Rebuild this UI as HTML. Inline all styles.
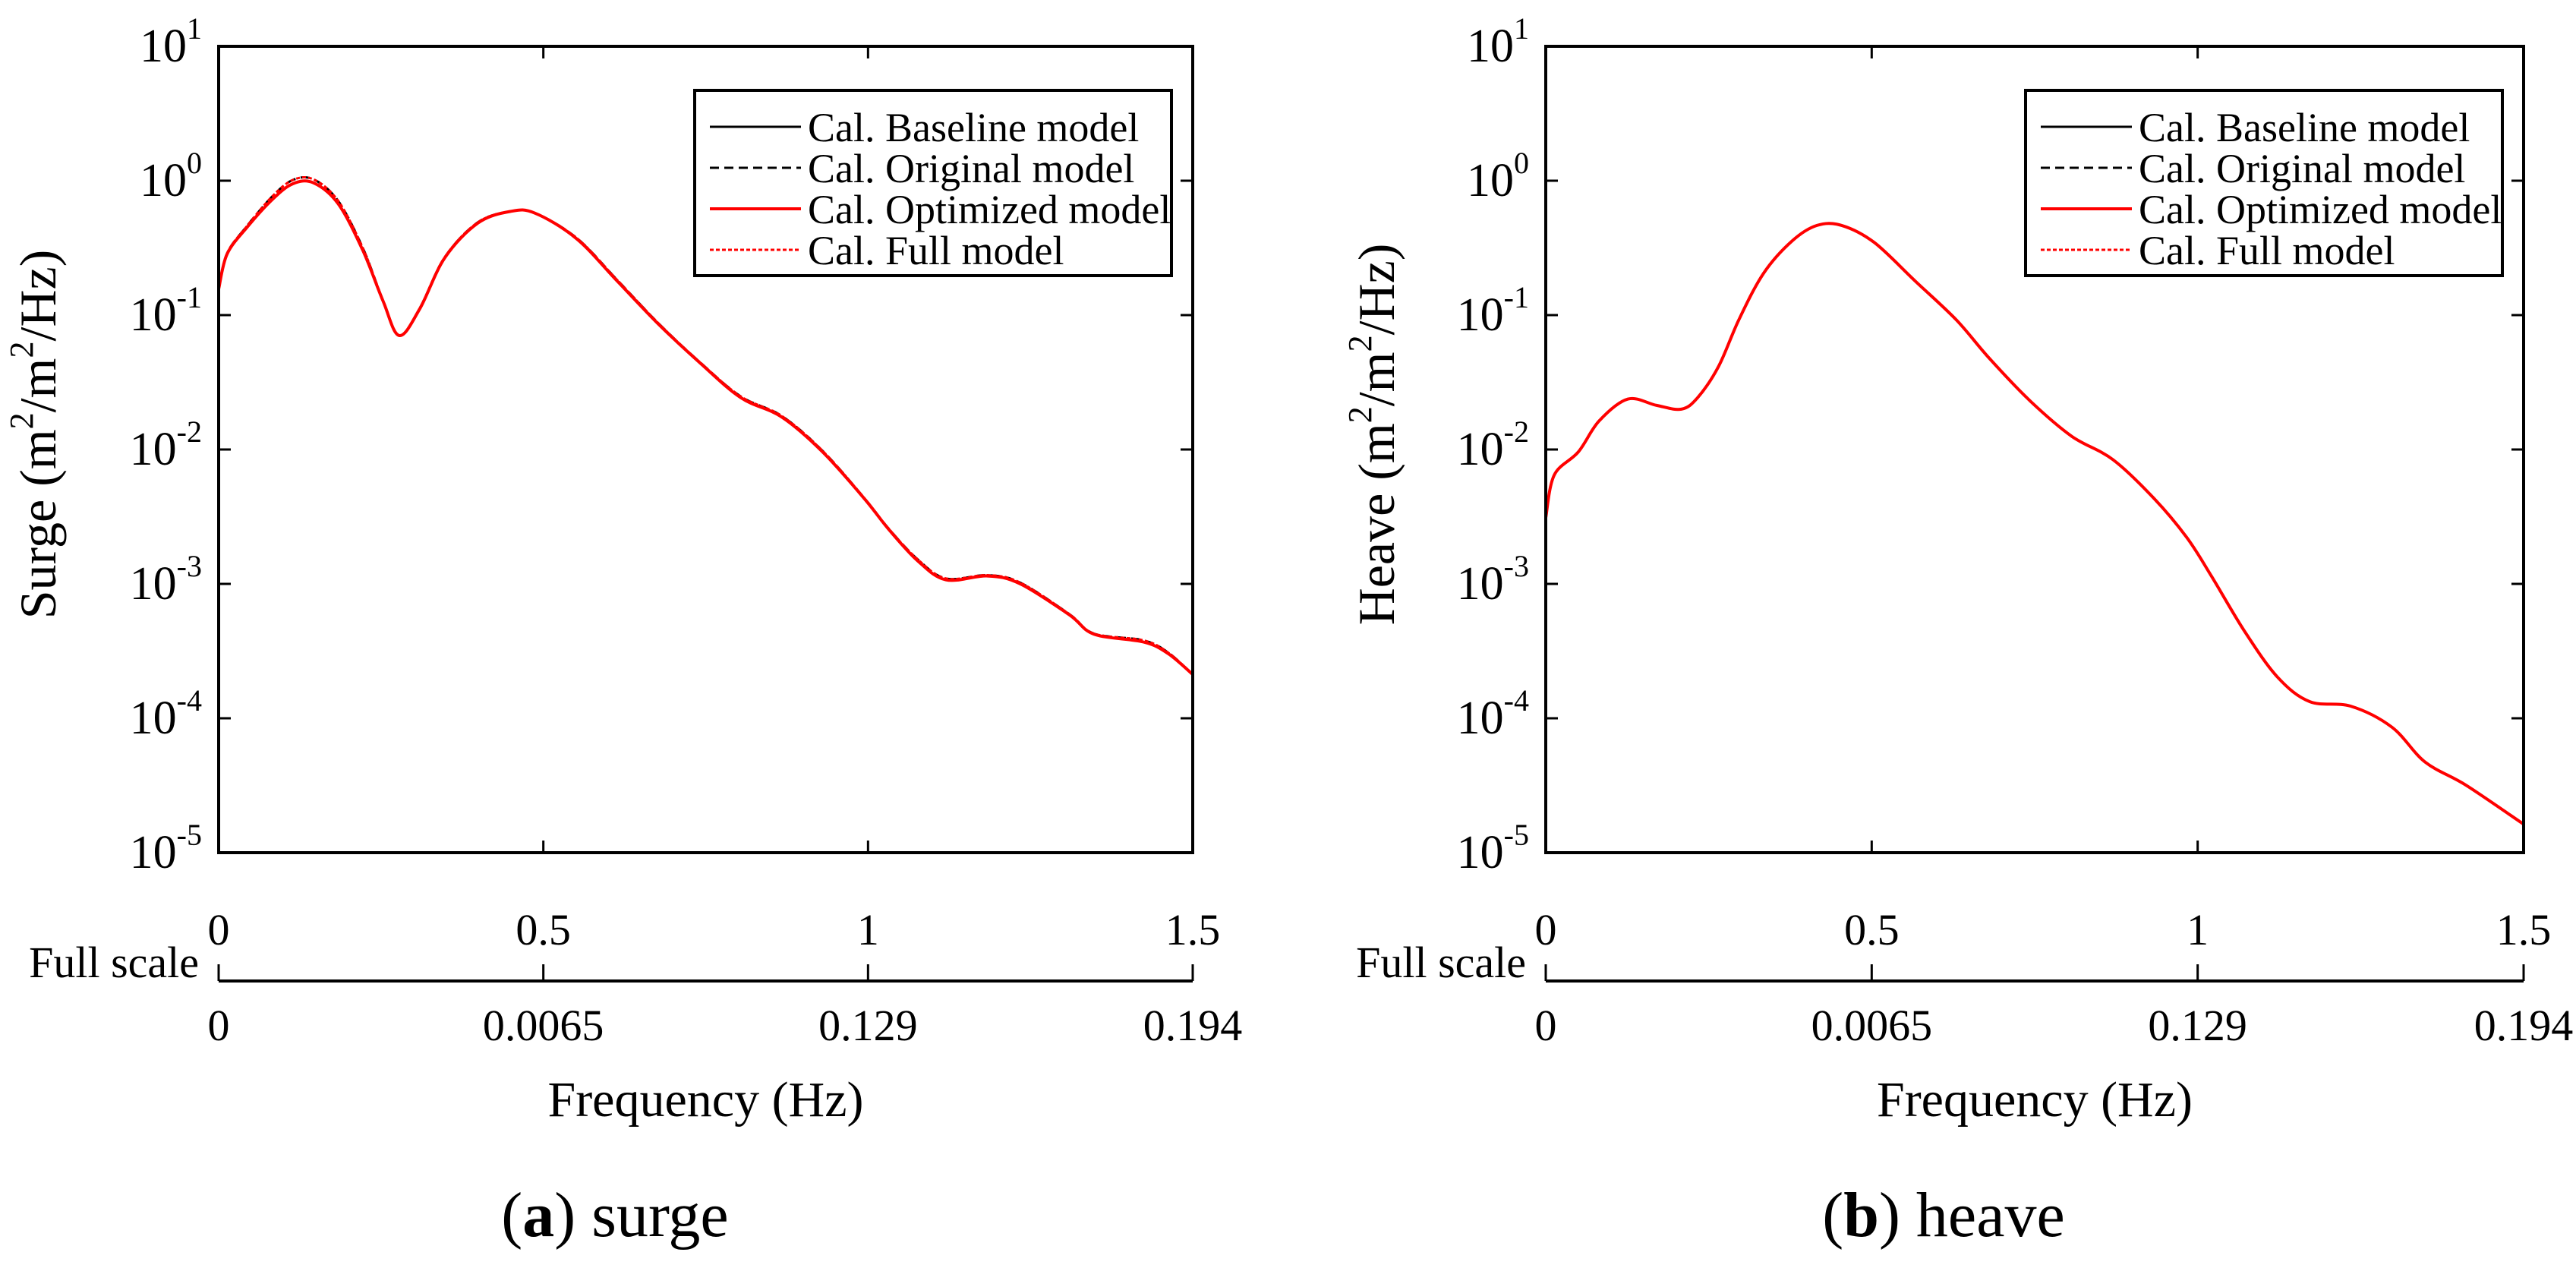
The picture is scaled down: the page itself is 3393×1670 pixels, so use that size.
<!DOCTYPE html>
<html><head><meta charset="utf-8"><style>
html,body{margin:0;padding:0;background:#fff;}
svg, svg text{font-family:"Liberation Serif","Times New Roman","DejaVu Serif",serif;}
svg{display:block;}
</style></head><body>
<svg id="fig" width="3393" height="1670" viewBox="0 0 3393 1670" xmlns="http://www.w3.org/2000/svg" font-family="Liberation Serif, Times New Roman, DejaVu Serif, serif"></svg>
<script>
const freqTicks=[0,0.5,1,1.5];
const freqTickLabels=["0","0.5","1","1.5"];
const fullScaleLabels=["0","0.0065","0.129","0.194"];
const decades=[1,0,-1,-2,-3,-4,-5];
const surgeX=[0,.013,.044,.082,.114,.146,.184,.222,.253,.278,.310,.348,.399,.449,.487,.551,.614,.677,.741,.804,.867,.930,.994,1.032,1.076,1.120,1.184,1.234,1.310,1.348,1.424,1.462,1.5];
const surgeLog=[-0.806,-0.546,-0.345,-0.143,-0.023,-0.016,-0.171,-0.518,-0.893,-1.152,-0.950,-0.575,-0.316,-0.229,-0.241,-0.431,-0.748,-1.066,-1.354,-1.614,-1.758,-2.018,-2.364,-2.595,-2.826,-2.970,-2.941,-2.999,-3.230,-3.374,-3.432,-3.518,-3.674];
const surgeOrigLog=[-0.806,-0.540,-0.335,-0.120,0.005,0.010,-0.150,-0.500,-0.890,-1.152,-0.945,-0.570,-0.310,-0.229,-0.241,-0.425,-0.740,-1.060,-1.350,-1.605,-1.750,-2.010,-2.360,-2.590,-2.815,-2.960,-2.935,-2.990,-3.225,-3.370,-3.420,-3.510,-3.674];
const heaveX=[0,.013,.050,.082,.126,.170,.208,.233,.265,.296,.334,.378,.416,.454,.504,.567,.630,.681,.744,.807,.870,.933,.983,1.021,1.071,1.122,1.172,1.235,1.298,1.349,1.412,1.5];
const heaveLog=[-2.508,-2.19,-2.018,-1.787,-1.625,-1.672,-1.700,-1.614,-1.383,-1.037,-0.690,-0.448,-0.333,-0.333,-0.460,-0.748,-1.037,-1.325,-1.643,-1.902,-2.075,-2.364,-2.653,-2.941,-3.345,-3.691,-3.876,-3.910,-4.066,-4.326,-4.499,-4.788];
const legendLabels=["Cal. Baseline model","Cal. Original model","Cal. Optimized model","Cal. Full model"];

const NS="http://www.w3.org/2000/svg";
const svg=document.getElementById('fig');
function mk(tag,attrs,parent){const e=document.createElementNS(NS,tag);for(const k in attrs)e.setAttribute(k,attrs[k]);(parent||svg).appendChild(e);return e;}
function smoothPath(P){
  let d='M'+P[0][0].toFixed(1)+','+P[0][1].toFixed(1);
  for(let i=0;i<P.length-1;i++){
    const p0=P[Math.max(0,i-1)],p1=P[i],p2=P[i+1],p3=P[Math.min(P.length-1,i+2)];
    const c1=[p1[0]+(p2[0]-p0[0])/6,p1[1]+(p2[1]-p0[1])/6];
    const c2=[p2[0]-(p3[0]-p1[0])/6,p2[1]-(p3[1]-p1[1])/6];
    d+=' C'+c1.map(v=>v.toFixed(1)).join(',')+' '+c2.map(v=>v.toFixed(1)).join(',')+' '+p2.map(v=>v.toFixed(1)).join(',');
  }
  return d;
}

function panel(opt){
  const L=opt.left,R=opt.right,T=61,B=1123;
  const g=mk('g',{});
  
  
  const xs=v=>L+(v/1.5)*(R-L);
  const ys=lg=>T+(1-lg)/6*(B-T);
  const styles=[
    {c:'#000',d:'',w:3,arr:opt.base,n:'baseline-line'},
    {c:'#000',d:'12,7',w:3,arr:opt.orig,n:'original-line'},
    {c:'#ff0000',d:'',w:4,arr:opt.base,n:'optimized-line'},
    {c:'#ff0000',d:'5,3',w:3,arr:opt.full,n:'full-line'}];
  styles.forEach(s=>{
    const P=opt.x.map((v,i)=>[xs(v),ys(s.arr[i])]);
    const p=mk('path',{d:smoothPath(P),fill:'none',stroke:s.c,'stroke-width':s.w,'stroke-dasharray':s.d,'stroke-linejoin':'round'},g);
    
    
  });
  const fr=mk('rect',{x:L,y:T,width:R-L,height:B-T,fill:'none',stroke:'#000','stroke-width':4},g);
  
  
  decades.forEach(d=>{
    const y=ys(d);
    mk('line',{x1:L,x2:L+16,y1:y,y2:y,stroke:'#000','stroke-width':3},g);
    mk('line',{x1:R,x2:R-16,y1:y,y2:y,stroke:'#000','stroke-width':3},g);
    const t=mk('text',{x:L-22,y:y+20,'text-anchor':'end','font-size':62},g);
    
    
    t.appendChild(document.createTextNode('10'));
    const s=mk('tspan',{dy:-30,'font-size':40},t);s.textContent=String(d);
  });
  freqTicks.forEach((f,i)=>{
    const x=xs(f);
    mk('line',{x1:x,x2:x,y1:B,y2:B-16,stroke:'#000','stroke-width':3},g);
    mk('line',{x1:x,x2:x,y1:T,y2:T+16,stroke:'#000','stroke-width':3},g);
    const t=mk('text',{x:x,y:1244,'text-anchor':'middle','font-size':58},g);
    
    
    t.textContent=freqTickLabels[i];
    mk('line',{x1:x,x2:x,y1:1292,y2:1270,stroke:'#000','stroke-width':3},g);
    const t2=mk('text',{x:x,y:1370,'text-anchor':'middle','font-size':58},g);
    
    
    t2.textContent=fullScaleLabels[i];
  });
  const ax=mk('line',{x1:L,x2:R,y1:1292,y2:1292,stroke:'#000','stroke-width':4},g);
  
  
  const fs=mk('text',{x:L-26,y:1287,'text-anchor':'end','font-size':58},g);
  
  
  fs.textContent='Full scale';
  const xl=mk('text',{x:(L+R)/2,y:1470,'text-anchor':'middle','font-size':66},g);
  
  
  xl.textContent='Frequency (Hz)';
  const yl=mk('text',{transform:`translate(${L-opt.ylOff},${(T+B)/2-20}) rotate(-90)`,'text-anchor':'middle','font-size':68},g);
  
  
  yl.appendChild(document.createTextNode(opt.ylab+' (m'));
  let s=mk('tspan',{dy:-30,'font-size':44},yl);s.textContent='2';
  s=mk('tspan',{dy:30},yl);s.textContent='/m';
  s=mk('tspan',{dy:-30,'font-size':44},yl);s.textContent='2';
  s=mk('tspan',{dy:30},yl);s.textContent='/Hz)';
  const lx=R-656,ly=119;
  const lg=mk('g',{},g);
  
  
  mk('rect',{x:lx,y:ly,width:628,height:244,fill:'#fff',stroke:'#000','stroke-width':4},lg);
  legendLabels.forEach((lab,i)=>{
    const y=ly+48+i*54;
    const st=styles[i];
    mk('line',{x1:lx+20,x2:lx+140,y1:y,y2:y,stroke:st.c,'stroke-width':st.w,'stroke-dasharray':st.d},lg);
    const t=mk('text',{x:lx+149,y:y+19,'font-size':54},lg);
    
    
    t.textContent=lab;
  });
  const cap=mk('text',{x:opt.capX,y:1628,'text-anchor':'middle','font-size':84},g);
  
  
  cap.appendChild(document.createTextNode('('));
  const b=mk('tspan',{'font-weight':'bold'},cap);b.textContent=opt.letter;
  cap.appendChild(document.createTextNode(') '+opt.name));
}
const heaveOrig=heaveLog.map(v=>v);
panel({name:'surge',left:288,right:1571,x:surgeX,base:surgeLog,orig:surgeOrigLog,full:surgeOrigLog,ylab:'Surge',capX:810,letter:'a',ylOff:215});
panel({name:'heave',left:2036,right:3324,x:heaveX,base:heaveLog,orig:heaveOrig,full:heaveLog,ylab:'Heave',capX:2560,letter:'b',ylOff:200});
</script>
</body></html>
